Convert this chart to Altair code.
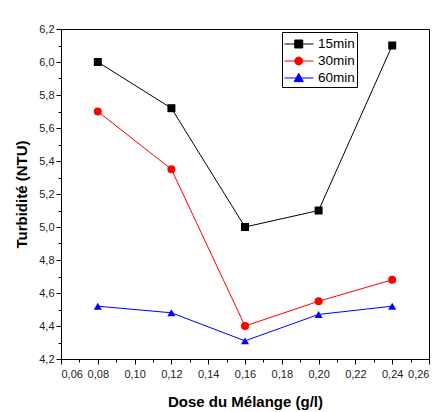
import altair as alt
import pandas as pd

# ---- data ----
doses = [0.08, 0.12, 0.16, 0.20, 0.24]
t15 = [6.00, 5.72, 5.00, 5.10, 6.10]
t30 = [5.70, 5.35, 4.40, 4.55, 4.68]
t60 = [4.52, 4.48, 4.31, 4.47, 4.52]
series = ["15min", "30min", "60min"]
colors = ["#000000", "#ff0000", "#0000ff"]
shapes = ["square", "circle", "triangle-up"]
legend_shapes = [
    "M-1,0H2.05M0.08,-0.42H0.92V0.42H0.08Z",
    "M-1,0H2.05M0.08,0A0.42,0.42 0 1,0 0.92,0A0.42,0.42 0 1,0 0.08,0Z",
    "M-1,0H2.05M0.5,-0.5L0.98,0.38H0.02Z",
]
x_ticks = [0.06, 0.07, 0.08, 0.09, 0.10, 0.11, 0.12, 0.13, 0.14, 0.15, 0.16,
           0.17, 0.18, 0.19, 0.20, 0.21, 0.22, 0.23, 0.24, 0.25, 0.26]
y_ticks = [4.2, 4.3, 4.4, 4.5, 4.6, 4.7, 4.8, 4.9, 5.0, 5.1, 5.2, 5.3, 5.4,
           5.5, 5.6, 5.7, 5.8, 5.9, 6.0, 6.1, 6.2]

rows = []
for name, vals in zip(series, [t15, t30, t60]):
    for d, v in zip(doses, vals):
        rows.append({"dose": d, "turb": v, "serie": name})
df = pd.DataFrame(rows)

FONT = "Liberation Sans"

x_axis = alt.Axis(
    title="Dose du Mélange (g/l)",
    values=x_ticks,
    labelExpr="round(datum.value*100)%2==0 ? replace(format(datum.value,'.2f'),'.',',') : ''",
    tickSize={"condition": {"test": "round(datum.value*100)%2==0", "value": 5}, "value": 3},
    labelOverlap=False,
    labelPadding=4,
    titlePadding=15,
    grid=False,
)
y_axis = alt.Axis(
    title="Turbidité (NTU)",
    values=y_ticks,
    labelExpr="round(datum.value*10)%2==0 ? replace(format(datum.value,'.1f'),'.',',') : ''",
    tickSize={"condition": {"test": "round(datum.value*10)%2==0", "value": 5}, "value": 3},
    labelOverlap=False,
    labelPadding=2,
    titlePadding=9,
    grid=False,
)

x_enc = alt.X("dose:Q", scale=alt.Scale(domain=[0.06, 0.26], nice=False, zero=False), axis=x_axis)
y_enc = alt.Y("turb:Q", scale=alt.Scale(domain=[4.2, 6.2], nice=False, zero=False), axis=y_axis)

color_scale = alt.Scale(domain=series, range=colors)

legend = alt.Legend(
    title=None,
    orient="none",
    legendX=221,
    legendY=3,
    strokeColor="black",
    fillColor="white",
    padding=2,
    rowPadding=0,
    symbolSize=361,
    symbolOpacity=1,
    symbolStrokeWidth=1,
    symbolFillColor=alt.ExprRef("scale('color', datum.value)"),
    symbolStrokeColor=alt.ExprRef("scale('color', datum.value)"),
    labelOffset=14,
    labelFont=FONT,
    labelFontSize=13.5,
    labelColor="black",
)

color_enc = alt.Color("serie:N", scale=color_scale, legend=legend)

lines = alt.Chart(df).mark_line(strokeWidth=1).encode(
    x=x_enc,
    y=y_enc,
    color=color_enc,
)

point_layers = []
for name, shp in zip(series, shapes):
    point_layers.append(
        alt.Chart(df)
        .transform_filter(alt.datum.serie == name)
        .mark_point(filled=True, size=64, opacity=1, shape=shp)
        .encode(x=x_enc, y=y_enc, color=color_enc)
    )

legend_layer = alt.Chart(df).mark_point(filled=False, opacity=0, size=361).encode(
    x=x_enc,
    y=y_enc,
    color=color_enc,
    shape=alt.Shape("serie:N", scale=alt.Scale(domain=series, range=legend_shapes), legend=legend),
)

chart = (
    alt.layer(lines, *point_layers, legend_layer)
    .properties(
        width=368,
        height=330,
        padding={"left": 61, "top": 29, "right": 12, "bottom": 53},
        autosize="none",
        background="white",
    )
    .configure(font=FONT)
    .configure_view(stroke="black", strokeWidth=1)
    .configure_axis(
        domainColor="black",
        tickColor="black",
        labelColor="#222222",
        labelFont=FONT,
        labelFontSize=11,
        titleFont=FONT,
        titleFontSize=15,
        titleFontWeight="bold",
        titleColor="black",
    )
)

chart.save("out.html", embed_options={"renderer": "svg", "actions": False})
